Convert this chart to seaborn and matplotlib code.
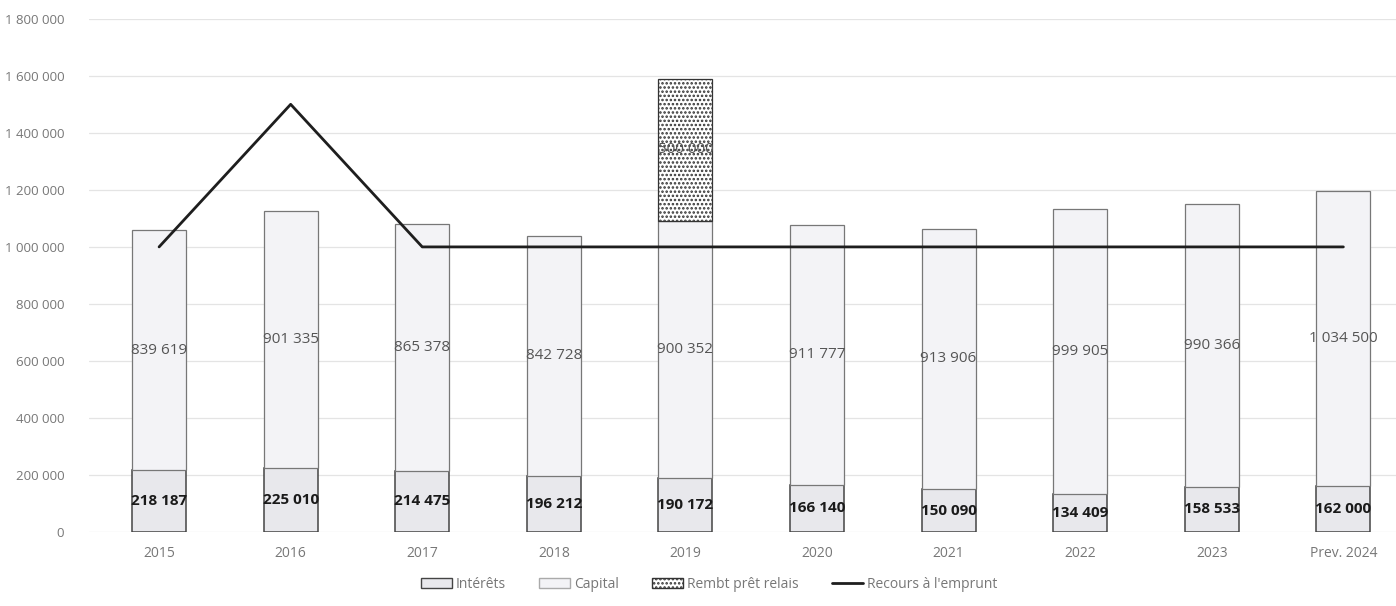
import numpy as np
import matplotlib
matplotlib.use("Agg")
import matplotlib.pyplot as plt
import seaborn as sns
from matplotlib.ticker import FuncFormatter
from matplotlib.patches import Patch
from matplotlib.lines import Line2D

years = ["2015", "2016", "2017", "2018", "2019", "2020", "2021", "2022", "2023", "Prev. 2024"]
interets = [218187, 225010, 214475, 196212, 190172, 166140, 150090, 134409, 158533, 162000]
capital = [839619, 901335, 865378, 842728, 900352, 911777, 913906, 999905, 990366, 1034500]
relais_year = ["2019"]
relais = [500000]
emprunt = [1000000, 1500000, 1000000, 1000000, 1000000, 1000000, 1000000, 1000000, 1000000, 1000000]


def fmt(v):
    return f"{int(round(v)):,}".replace(",", " ")


def DrawChart():
    sns.set_style("white")
    plt.rcParams["font.family"] = ["Open Sans", "DejaVu Sans"]
    plt.rcParams["hatch.linewidth"] = 1.2
    fig = plt.figure(figsize=(13.96, 6.06), dpi=100)
    ax = fig.add_axes([0.064, 0.122, 0.936, 0.847])

    ax.yaxis.grid(True, color="#e4e4e4", linewidth=0.9)
    ax.set_axisbelow(True)

    w = 0.41
    sns.barplot(x=years, y=interets, order=years, color="#e8e8ec", saturation=1,
                width=w, edgecolor="#444444", linewidth=1.1, errorbar=None, ax=ax)
    sns.barplot(x=years, y=capital, order=years, bottom=interets, color="#f3f3f6",
                saturation=1, width=w, edgecolor="#777777", linewidth=0.9,
                errorbar=None, ax=ax)
    tot_2019 = interets[years.index("2019")] + capital[years.index("2019")]
    sns.barplot(x=relais_year, y=relais, order=years, bottom=[tot_2019], color="white",
                saturation=1, width=w, edgecolor="#333333", linewidth=0.9,
                hatch="....", errorbar=None, ax=ax)

    sns.lineplot(x=np.arange(len(years)), y=emprunt, color="#1e1e1e", linewidth=2.0, ax=ax)

    for i in range(len(years)):
        ax.text(i, interets[i] / 2, fmt(interets[i]), ha="center", va="center",
                fontsize=11, fontweight="bold", color="#1a1a1a")
        ax.text(i, interets[i] + capital[i] / 2, fmt(capital[i]), ha="center",
                va="center", fontsize=11, color="#555555")
    ri = years.index("2019")
    ax.text(ri, tot_2019 + relais[0] / 2, fmt(relais[0]), ha="center", va="center",
            fontsize=11, color="#555555")

    ax.set_ylim(0, 1800000)
    ax.set_yticks(np.arange(0, 1800001, 200000))
    ax.yaxis.set_major_formatter(FuncFormatter(lambda v, p: fmt(v)))
    ax.set_xlim(-0.53, 9.4)
    ax.tick_params(axis="y", labelsize=9.5, labelcolor="#777777", length=0, pad=18)
    ax.tick_params(axis="x", labelsize=10, labelcolor="#777777", length=0, pad=10)
    ax.set_xlabel("")
    ax.set_ylabel("")
    for s in ax.spines.values():
        s.set_visible(False)

    handles = [
        Patch(facecolor="#e8e8ec", edgecolor="#444444", label="Intérêts"),
        Patch(facecolor="#f3f3f6", edgecolor="#aaaaaa", label="Capital"),
        Patch(facecolor="white", edgecolor="#333333", hatch="....", label="Rembt prêt relais"),
        Line2D([0], [0], color="#1e1e1e", linewidth=2.0, label="Recours à l'emprunt"),
    ]
    fig.legend(handles=handles, loc="center", bbox_to_anchor=(0.508, 0.036), ncol=4,
               frameon=False, fontsize=10, labelcolor="#777777", handlelength=2.2,
               handleheight=0.8, handletextpad=0.3, columnspacing=2.4)

    fig.savefig("out.png", dpi=100)


DrawChart()
